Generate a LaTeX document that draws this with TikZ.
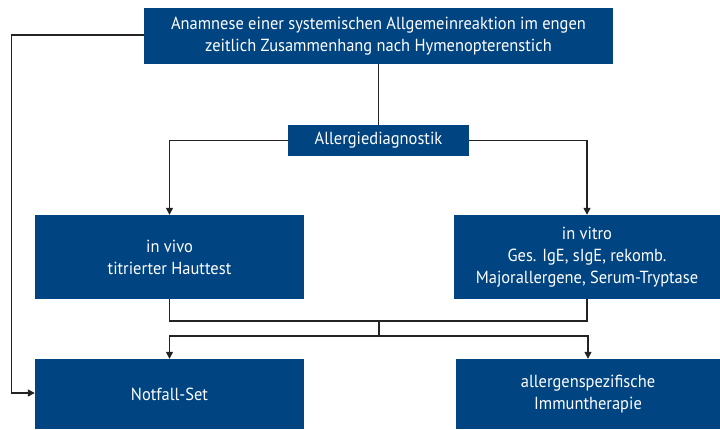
\documentclass[tikz,border=0pt]{standalone}
\usepackage{fontspec}
\setmainfont[FakeStretch=0.94]{PT Sans}
\usetikzlibrary{arrows.meta}
\definecolor{boxblue}{RGB}{0,68,130}
\definecolor{linegray}{RGB}{35,35,35}
\begin{document}
\begin{tikzpicture}[x=1pt,y=-1pt,
  bx/.style={fill=boxblue,text=white,inner sep=0pt,align=center,font=\fontsize{17.5}{22}\selectfont},
  ln/.style={draw=linegray,line width=1.4pt},
  ar/.style={ln,-{Triangle[length=7pt,width=7pt]}}]
\useasboundingbox (0,0) rectangle (720,429);
\node[bx,minimum width=469pt,minimum height=56pt] (top) at (378.5,36) {Anamnese einer systemischen Allgemeinreaktion im engen\\zeitlich Zusammenhang nach Hymenopterenstich};
\node[bx,minimum width=181pt,minimum height=31pt] (diag) at (378.5,140.5) {Allergiediagnostik};
\node[bx,minimum width=269pt,minimum height=84pt] (vivo) at (169.5,257) {in vivo\\titrierter Hauttest};
\node[bx,minimum width=266pt,minimum height=84pt] (vitro) at (587,257) {in vitro\\Ges. IgE, sIgE, rekomb.\\Majorallergene, Serum-Tryptase};
\node[bx,minimum width=269pt,minimum height=70pt] (not) at (169.5,394) {Notfall-Set};
\node[bx,minimum width=264pt,minimum height=70pt] (imm) at (588,394) {allergenspezifische\\Immuntherapie};
\coordinate (jA) at (379,321);
\coordinate (jB) at (379,336);
\draw[ln] (top.south) -- (diag.north);
\draw[ar] (diag.west) -| (vivo.north);
\draw[ar] (diag.east) -| (vitro.north);
\draw[ln] (vivo.south) |- (jA);
\draw[ln] (vitro.south) |- (jA);
\draw[ln] (jA) -- (jB);
\draw[ar] (jB) -| (not.north);
\draw[ar] (jB) -| (imm.north);
\draw[ar] (top.west |- 0,35) -| (11.5,393) -- (not.west |- 0,393);
\end{tikzpicture}
\end{document}
